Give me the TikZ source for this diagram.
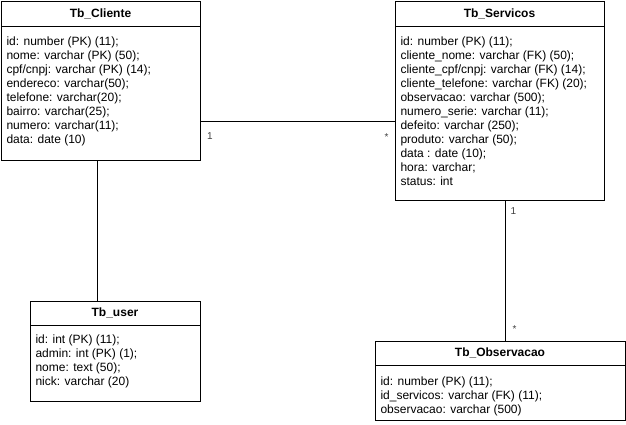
\documentclass[tikz,border=0pt]{standalone}
\usepackage{fontspec}
\setmainfont{Liberation Sans}
\begin{document}
\begin{tikzpicture}[x=1pt, y=-1pt, line width=1pt,
	tabbox/.style={draw, anchor=north west, inner sep=0pt},
	tabtitle/.style={font=\bfseries\fontsize{12}{14}\selectfont},
	fields/.style={anchor=north west, align=left, inner sep=0pt, font=\fontsize{12}{14}\selectfont},
	mult/.style={font=\fontsize{10}{12}\selectfont, text=black!75}]
	\useasboundingbox (0,0) rectangle (626,424);
	% Tb_Cliente
	\node[tabbox, minimum width=199pt, minimum height=159pt] (cliente) at (1,1) {};
	\node[tabtitle] (clientetit) at (100.5,13.5) {Tb\_Cliente};
	\draw (cliente.west |- 0,26) -- (cliente.east |- 0,26);
	\node[fields] (clientecol) at (6,36) {id: number (PK) (11);\\ nome: varchar (PK) (50);\\ cpf/cnpj: varchar (PK) (14);\\ endereco: varchar(50);\\ telefone: varchar(20);\\ bairro: varchar(25);\\ numero: varchar(11);\\ data: date (10)};
	% Tb_Servicos
	\node[tabbox, minimum width=209pt, minimum height=199pt] (servicos) at (395,1) {};
	\node[tabtitle] (servicostit) at (499.5,13.8) {Tb\_Servicos};
	\draw (servicos.west |- 0,26.5) -- (servicos.east |- 0,26.5);
	\node[fields] (servicoscol) at (400,36) {id: number (PK) (11);\\ cliente\_nome: varchar (FK) (50);\\ cliente\_cpf/cnpj: varchar (FK) (14);\\ cliente\_telefone: varchar (FK) (20);\\ observacao: varchar (500);\\ numero\_serie: varchar (11);\\ defeito: varchar (250);\\ produto: varchar (50);\\ data : date (10);\\ hora: varchar;\\ status: int};
	% Tb_user
	\node[tabbox, minimum width=170pt, minimum height=100pt] (user) at (30,301) {};
	\node[tabtitle] (usertit) at (115,313) {Tb\_user};
	\draw (user.west |- 0,325) -- (user.east |- 0,325);
	\node[fields] (usercol) at (35,334) {id: int (PK) (11);\\ admin: int (PK) (1);\\ nome: text (50);\\ nick: varchar (20)};
	% Tb_Observacao
	\node[tabbox, minimum width=250pt, minimum height=79pt] (observ) at (375,341) {};
	\node[tabtitle] (observtit) at (500,353) {Tb\_Observacao};
	\draw (observ.west |- 0,365) -- (observ.east |- 0,365);
	\node[fields] (observcol) at (380,376) {id: number (PK) (11);\\ id\_servicos: varchar (FK) (11);\\ observacao: varchar (500)};
	% relations
	\draw (cliente.east |- 0,121) -- (servicos.west |- 0,121);
	\draw (cliente.south -| 97,0) -- (user.north -| 97,0);
	\draw (servicos.south -| 505,0) -- (observ.north -| 505,0);
	% multiplicities
	\node[mult] (m1) at (210,136) {1};
	\node[mult] (m2) at (386.5,137) {*};
	\node[mult] (m3) at (513.5,211) {1};
	\node[mult] (m4) at (514.5,329) {*};
\end{tikzpicture}
\end{document}
